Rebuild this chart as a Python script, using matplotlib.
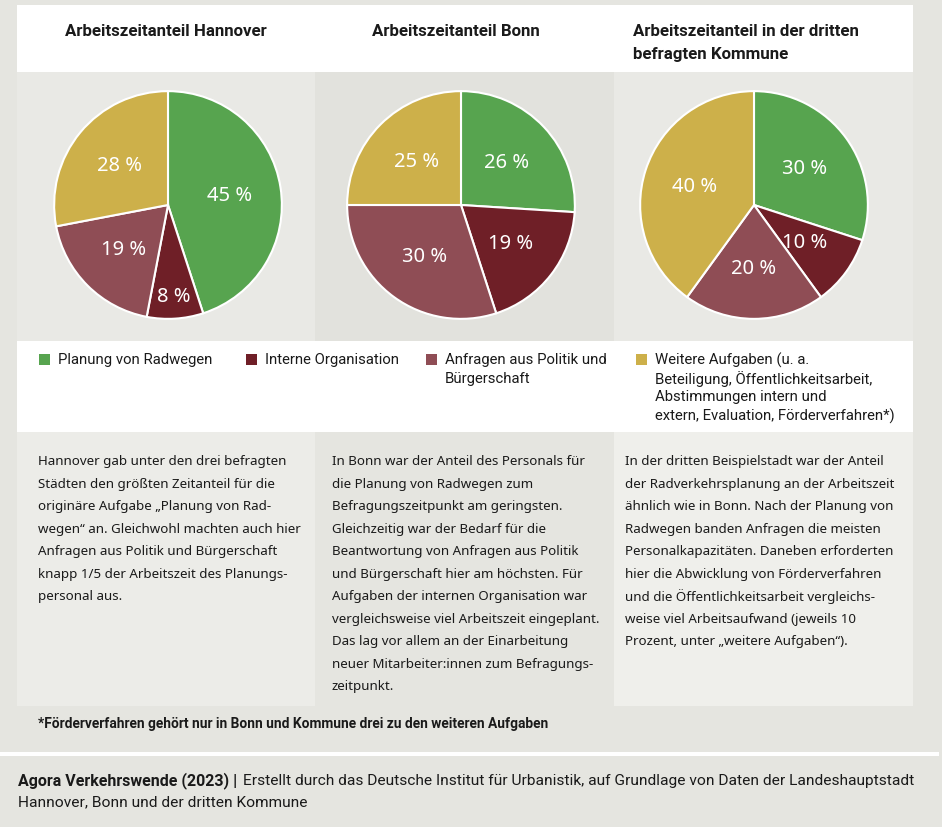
import numpy as np
import matplotlib.pyplot as plt
from matplotlib.patches import Rectangle

W, H = 942, 828

# data
categories = ["Planung von Radwegen", "Interne Organisation",
              "Anfragen aus Politik und\nBürgerschaft",
              "Weitere Aufgaben (u. a.\nBeteiligung, Öffentlichkeitsarbeit,\nAbstimmungen intern und\nextern, Evaluation, Förderverfahren*)"]
titles = ["Arbeitszeitanteil Hannover", "Arbeitszeitanteil Bonn",
          "Arbeitszeitanteil in der dritten\nbefragten Kommune"]
hannover = [45, 8, 19, 28]
bonn = [26, 19, 30, 25]
kommune3 = [30, 10, 20, 40]
shares = [hannover, bonn, kommune3]
colors = ["#57a44f", "#6f1f27", "#8f4d55", "#cdb04a"]

texts = [
    "Hannover gab unter den drei befragten\nStädten den größten Zeitanteil für die\n"
    "originäre Aufgabe „Planung von Rad-\nwegen“ an. Gleichwohl machten auch hier\n"
    "Anfragen aus Politik und Bürgerschaft\nknapp 1/5 der Arbeitszeit des Planungs-\n"
    "personal aus.",
    "In Bonn war der Anteil des Personals für\ndie Planung von Radwegen zum\n"
    "Befragungszeitpunkt am geringsten.\nGleichzeitig war der Bedarf für die\n"
    "Beantwortung von Anfragen aus Politik\nund Bürgerschaft hier am höchsten. Für\n"
    "Aufgaben der internen Organisation war\nvergleichsweise viel Arbeitszeit eingeplant.\n"
    "Das lag vor allem an der Einarbeitung\nneuer Mitarbeiter:innen zum Befragungs-\n"
    "zeitpunkt.",
    "In der dritten Beispielstadt war der Anteil\nder Radverkehrsplanung an der Arbeitszeit\n"
    "ähnlich wie in Bonn. Nach der Planung von\nRadwegen banden Anfragen die meisten\n"
    "Personalkapazitäten. Daneben erforderten\nhier die Abwicklung von Förderverfahren\n"
    "und die Öffentlichkeitsarbeit vergleichs-\nweise viel Arbeitsaufwand (jeweils 10\n"
    "Prozent, unter „weitere Aufgaben“).",
]
footnote = "*Förderverfahren gehört nur in Bonn und Kommune drei zu den weiteren Aufgaben"
source_bold = "Agora Verkehrswende (2023) |"
source_rest = "Erstellt durch das Deutsche Institut für Urbanistik, auf Grundlage von Daten der Landeshauptstadt"
source_line2 = "Hannover, Bonn und der dritten Kommune"

narrow = "Roboto"
body = "Noto Sans"
ink = "#1a1a1a"
plt.rcParams['font.family'] = [narrow, 'DejaVu Sans']

fig = plt.figure(figsize=(W / 100, H / 100), dpi=100)
fig.patch.set_facecolor("#e5e5e0")
bg = fig.add_axes([0, 0, 1, 1])
bg.set_xlim(0, W)
bg.set_ylim(H, 0)
bg.axis("off")
renderer = fig.canvas.get_renderer()


def box(x0, y0, x1, y1, c):
    bg.add_patch(Rectangle((x0, y0), x1 - x0, y1 - y0, facecolor=c, edgecolor="none"))


def fit_size(s, width, weight="normal", family=narrow):
    # font size at which s is about `width` pixels wide
    t = bg.text(0, 0, s, fontsize=10, fontweight=weight, family=family)
    w = t.get_window_extent(renderer).width
    t.remove()
    return 10 * width / w


def lines(x, y0, step, s, size, weight="normal", family=narrow):
    for i, ln in enumerate(s.split("\n")):
        bg.text(x, y0 + i * step, ln, fontsize=size, fontweight=weight, family=family,
                va="center", ha="left", color=ink)


# panels
cols = [(17, 315), (315, 614), (614, 913)]
box(17, 6, 913, 73, "white")
for (x0, x1), c in zip(cols, ["#e9e9e5", "#e2e2dd", "#e9e9e5"]):
    box(x0, 73, x1, 342, c)
box(17, 342, 913, 433, "white")
for (x0, x1), c in zip(cols, ["#ecece8", "#e5e5e0", "#efefeb"]):
    box(x0, 433, x1, 707, c)
box(0, 753, 939, 757, "white")

# titles
tsize = fit_size(titles[0], 203, "bold")
for tx, t in zip([65, 372, 633], titles):
    lines(tx, 32, 22, t, tsize, "bold")

# pies
centers = [(168, 206), (461, 206), (754, 206)]
r = 115
for (cx, cy), vals in zip(centers, shares):
    ax = fig.add_axes([(cx - r) / W, 1 - (cy + r) / H, 2 * r / W, 2 * r / H])
    wedges, _ = ax.pie(vals, colors=colors, startangle=90, counterclock=False,
                       radius=1, wedgeprops=dict(edgecolor="white", linewidth=1.5))
    for w, v in zip(wedges, vals):
        ang = np.deg2rad((w.theta1 + w.theta2) / 2)
        d = 0.8 if v < 10 else 0.55
        ax.text(d * np.cos(ang), d * np.sin(ang), f"{v} %", color="white",
                fontsize=14.5, family=body, ha="center", va="center")
    ax.set_xlim(-1.01, 1.01)
    ax.set_ylim(-1.01, 1.01)
    ax.set_aspect("equal")
    ax.axis("off")

# legend
lsize = fit_size(categories[0], 155)
for lx, c, lab in zip([39, 246, 426, 636], colors, categories):
    box(lx, 355, lx + 11, 366, c)
    lines(lx + 19, 360, 18.7, lab, lsize)

# body texts
for tx, t in zip([38, 332, 625], texts):
    lines(tx, 462, 22.5, t, 9.6, family=body)

fsize = fit_size(footnote, 510, "bold")
lines(38, 724, 0, footnote, fsize, "bold")

# source
bsize = fit_size(source_bold, 219, "bold")
rsize = fit_size(source_line2, 288)
lines(18, 781, 0, source_bold, bsize, "bold")
lines(243, 781, 0, source_rest, rsize)
lines(18, 802, 0, source_line2, rsize)

fig.savefig("out.png", dpi=100, facecolor=fig.get_facecolor())
